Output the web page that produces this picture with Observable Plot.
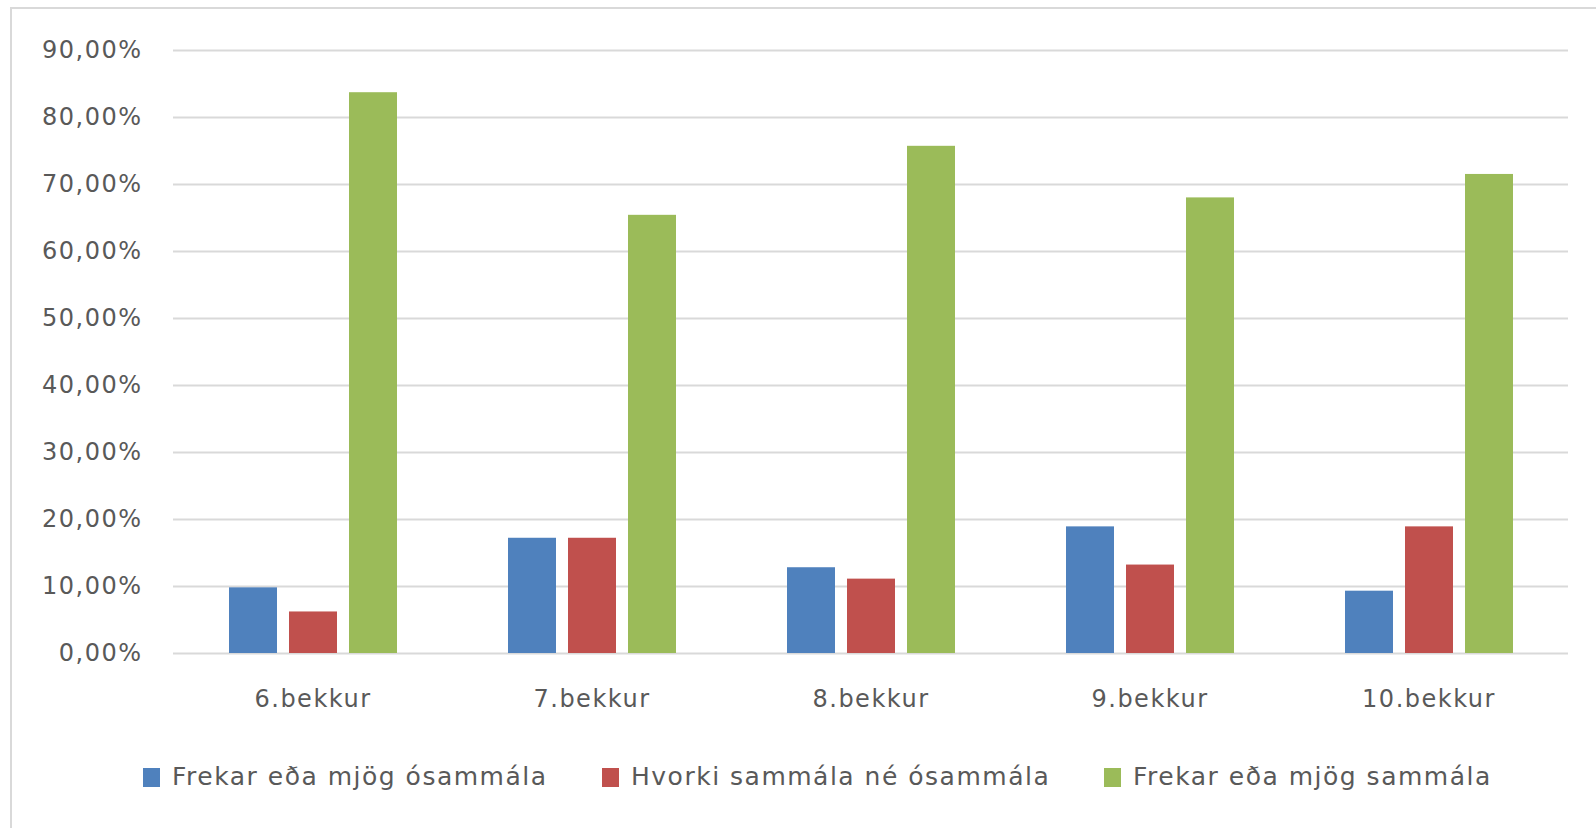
<!DOCTYPE html>
<html><head><meta charset="utf-8">
<script src="https://cdn.jsdelivr.net/npm/d3@7"></script>
<script src="https://cdn.jsdelivr.net/npm/@observablehq/plot@0.6"></script>
<style>
body{margin:0;background:#fff;width:1596px;height:828px;overflow:hidden;position:relative;font-family:"DejaVu Sans",sans-serif;}
#frame{position:absolute;left:10px;top:7px;width:1600px;height:830px;border-left:2px solid #d9d9d9;border-top:2px solid #d9d9d9;}
#chart{position:absolute;left:0;top:0;}
#legend{position:absolute;left:0;top:0;width:1596px;height:828px;}
.item{position:absolute;top:762px;height:30px;line-height:30px;display:flex;align-items:center;font-size:25px;letter-spacing:1.5px;color:#595959;white-space:nowrap;}
.sw{width:17px;height:19px;margin-right:12px;flex:none;}
</style></head><body>
<div id="frame"></div><div id="chart"></div><div id="legend"></div>
<script>
const categories = ["6.bekkur", "7.bekkur", "8.bekkur", "9.bekkur", "10.bekkur"];
const series = ["Frekar eða mjög ósammála", "Hvorki sammála né ósammála", "Frekar eða mjög sammála"];
const disagree = [9.8, 17.2, 12.8, 18.9, 9.3];
const neutral = [6.2, 17.2, 11.1, 13.2, 18.9];
const agree = [83.7, 65.4, 75.7, 68.0, 71.5];
const colors = ["#4f81bd", "#c0504d", "#9bbb59"];
const yTicks = [0, 10, 20, 30, 40, 50, 60, 70, 80, 90];
const legendX = [143, 602, 1104];

const values = [disagree, neutral, agree];
const data = categories.flatMap((c, i) => values.map((arr, j) => ({category: c, series: series[j], value: arr[i]})));
const fmt = d => d.toFixed(2).replace(".", ",") + "%";

const chart = Plot.plot({
  width: 1596, height: 740,
  marginLeft: 171, marginRight: 27, marginTop: 50, marginBottom: 87,
  style: {fontFamily: "DejaVu Sans", fontSize: "24px", color: "#595959", background: "transparent", letterSpacing: "1.5px"},
  fx: {domain: categories, padding: 0, axis: "bottom", tickSize: 0, tickPadding: 36, label: null},
  x: {domain: series, axis: null, paddingInner: 0.2, paddingOuter: 0.9},
  y: {domain: [0, 90], ticks: yTicks, tickFormat: fmt, tickSize: 0, tickPadding: 31, label: null},
  color: {domain: series, range: colors},
  marks: [
    Plot.ruleY(yTicks, {stroke: "#d9d9d9", strokeWidth: 2, strokeOpacity: 1}),
    Plot.barY(data, {fx: "category", x: "series", y: "value", fill: "series"})
  ]
});
document.getElementById("chart").appendChild(chart);

const legend = document.getElementById("legend");
series.forEach((s, i) => {
  const item = document.createElement("div");
  item.className = "item";
  item.style.left = legendX[i] + "px";
  const sw = document.createElement("span");
  sw.className = "sw";
  sw.style.background = colors[i];
  const t = document.createElement("span");
  t.textContent = s;
  item.appendChild(sw); item.appendChild(t);
  legend.appendChild(item);
});
</script>
</body></html>
